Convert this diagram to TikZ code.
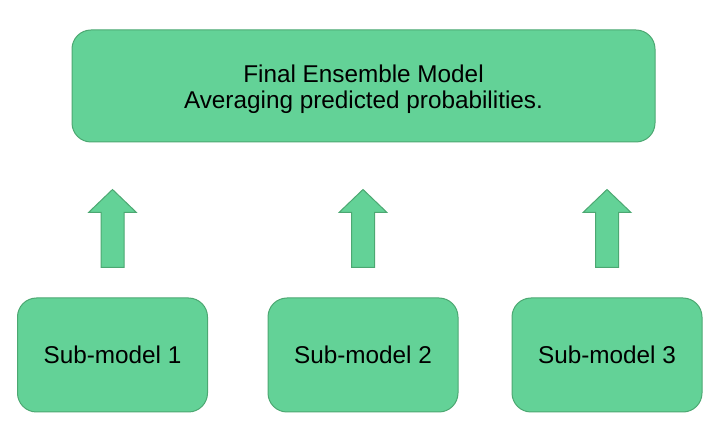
\documentclass[tikz,border=0pt]{standalone}
\usepackage{fontspec}
\setmainfont{Liberation Sans}
\usepackage{tikz}
\definecolor{boxgreen}{RGB}{99,210,151}
\definecolor{edgegreen}{RGB}{76,168,114}
\tikzset{>=latex}
\tikzset{
    modelbox/.style={fill=boxgreen, draw=edgegreen, line width=1pt, rounded corners=19pt, align=center, font=\fontsize{24.3}{26.5}\selectfont},
    blockarrow/.style={fill=boxgreen, draw=edgegreen, line width=1pt}
}

\begin{document}
\begin{tikzpicture}[x=1pt, y=-1pt]
    \useasboundingbox(0, 0)rectangle(718, 427);
    \node[modelbox, minimum width=583pt, minimum height=112pt](final) at(363.5, 86){\rule{0pt}{24pt}Final Ensemble Model\\Averaging predicted probabilities.};
    \node[modelbox, minimum width=190pt, minimum height=114pt](sub1) at(112.5, 355){Sub-model 1};
    \node[modelbox, minimum width=190pt, minimum height=114pt](sub2) at(363, 355){Sub-model 2};
    \node[modelbox, minimum width=190pt, minimum height=114pt](sub3) at(607, 355){Sub-model 3};
    \foreach \i in {1, 2, 3}
        \draw[blockarrow]([xshift=-11.5pt, yshift=30pt]sub\i.north) -- ++(0, -55) -- ++(-12.5, 0) -- ++(24, -23) -- ++(24, 23) -- ++(-12.5, 0) -- ++(0, 55) -- cycle;
\end{tikzpicture}
\end{document}
